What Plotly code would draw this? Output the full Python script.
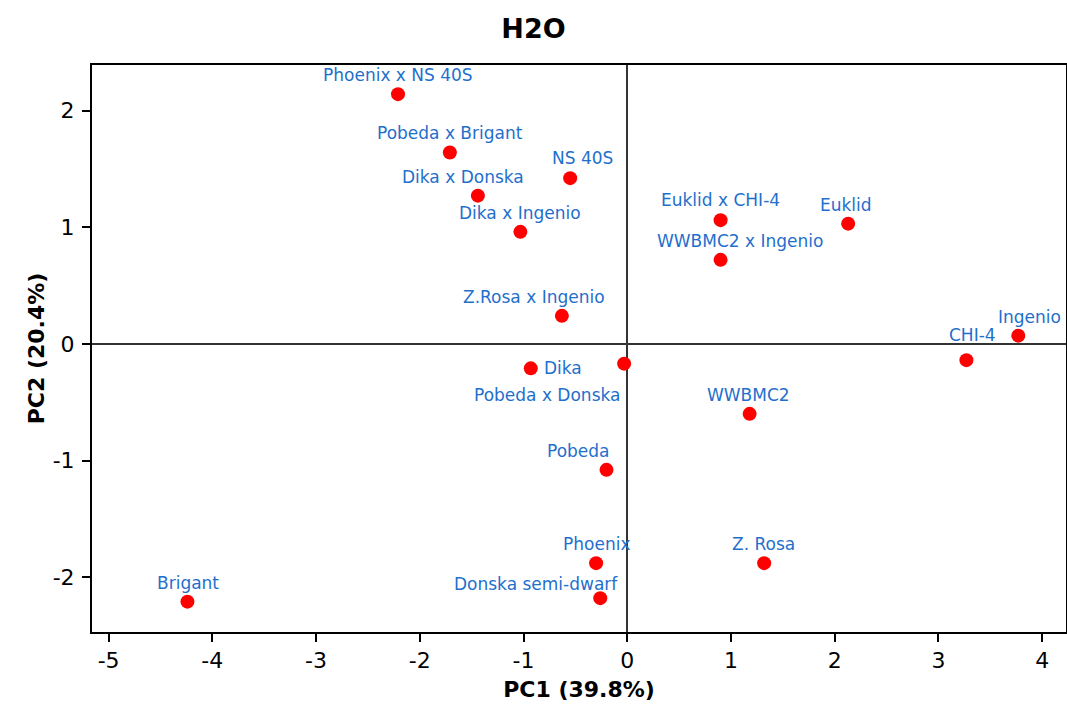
import plotly.graph_objects as go

names = ["Phoenix x NS 40S", "Pobeda x Brigant", "NS 40S", "Dika x Donska", "Dika x Ingenio",
         "Euklid x CHI-4", "Euklid", "WWBMC2 x Ingenio", "Z.Rosa x Ingenio", "Ingenio", "CHI-4",
         "Dika", "Pobeda x Donska", "WWBMC2", "Pobeda", "Phoenix", "Z. Rosa",
         "Donska semi-dwarf", "Brigant"]
pc1 = [-2.21, -1.71, -0.55, -1.44, -1.03, 0.90, 2.13, 0.90, -0.63, 3.77, 3.27,
       -0.93, -0.03, 1.18, -0.20, -0.30, 1.32, -0.26, -4.24]
pc2 = [2.14, 1.64, 1.42, 1.27, 0.96, 1.06, 1.03, 0.72, 0.24, 0.07, -0.14,
       -0.21, -0.17, -0.60, -1.08, -1.88, -1.88, -2.18, -2.21]
# label offsets in pixels (dx, dy up)
label_dx = [0, 0, 12, -15, 0, 0, -2, 19, -28, 11, 6, 32, -77, -1, -28, 0, -1, -64, 1]
label_dy = [19, 20, 20, 19, 19, 20, 19, 19, 19, 19, 25, 0, -31, 19, 19, 19, 19, 14, 19]

x_ticks = [-5, -4, -3, -2, -1, 0, 1, 2, 3, 4]
x_ticktext = ["-5", "-4", "-3", "-2", "-1", "0", "1", "2", "3", "4"]
y_ticks = [-2, -1, 0, 1, 2]
y_ticktext = ["-2", "-1", "0", "1", "2"]

FONT = "DejaVu Sans"

fig = go.Figure()
fig.add_trace(go.Scatter(x=pc1, y=pc2, mode="markers",
                         marker=dict(color="#ff0000", size=14), hoverinfo="text", text=names))

for n, x, y, dx, dy in zip(names, pc1, pc2, label_dx, label_dy):
    fig.add_annotation(x=x, y=y, text=n, showarrow=False, xshift=dx, yshift=dy,
                       xanchor="center", yanchor="middle",
                       font=dict(family=FONT, size=17, color="#1f6fcc"))

axis_common = dict(showline=True, linecolor="black", linewidth=2, mirror=True,
                   ticks="outside", ticklen=8, tickwidth=1.5, tickcolor="black",
                   showgrid=False, zeroline=True, zerolinecolor="#333333", zerolinewidth=1.5,
                   tickfont=dict(family=FONT, size=22, color="black"))

fig.update_xaxes(range=[-5.16, 4.23], tickvals=x_ticks, ticktext=x_ticktext,
                 title=dict(text="<b>PC1 (39.8%)</b>", font=dict(family=FONT, size=22, color="black"), standoff=9),
                 **axis_common)
fig.update_yaxes(range=[-2.47, 2.39], tickvals=y_ticks, ticktext=y_ticktext, ticklabelstandoff=3,
                 title=dict(text="<b>PC2 (20.4%)</b>", font=dict(family=FONT, size=22, color="black"), standoff=2),
                 **axis_common)

fig.update_layout(
    width=1067, height=706,
    title=dict(text="<b>H2O</b>", x=0.5, xanchor="center", y=0.96, yanchor="middle",
               font=dict(family=FONT, size=27, color="black")),
    margin=dict(l=92, r=1, t=65, b=74, autoexpand=False),
    plot_bgcolor="white", paper_bgcolor="white",
    showlegend=False,
)

fig.write_html("out.html", config={"displayModeBar": False},
               post_script="document.body.style.margin='0';document.body.style.overflow='hidden';")
